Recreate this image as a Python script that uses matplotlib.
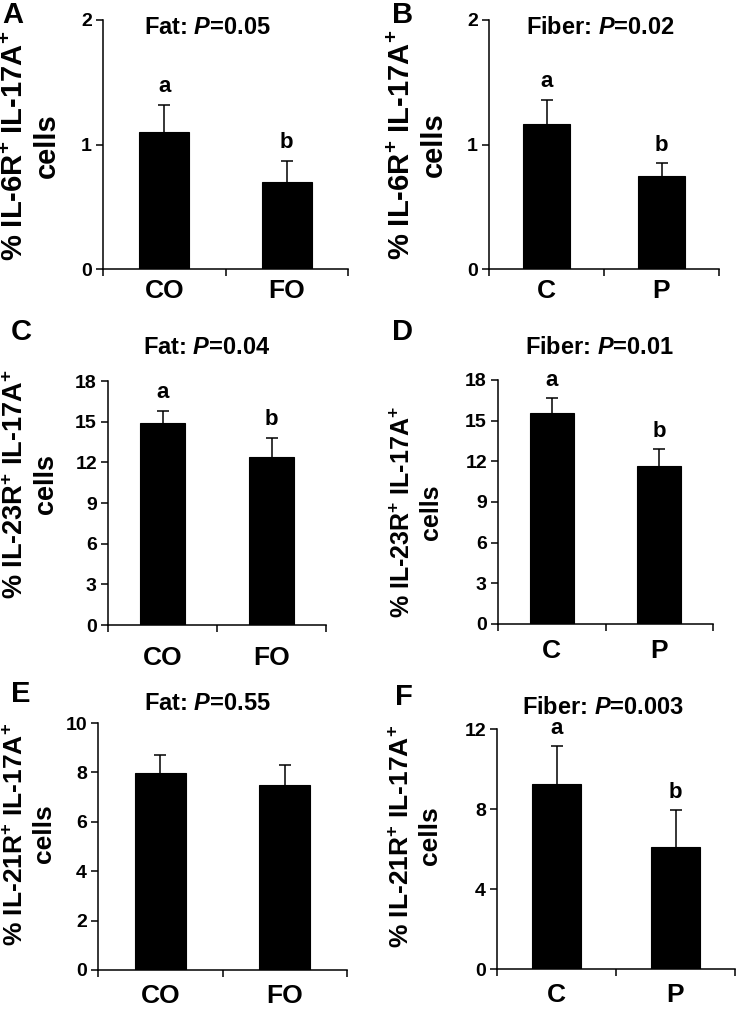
import numpy as np
import matplotlib
matplotlib.use('Agg')
import matplotlib.pyplot as plt

plt.rcParams['font.family'] = ['Liberation Sans', 'DejaVu Sans']
plt.rcParams['font.weight'] = 'bold'
plt.rcParams['mathtext.fontset'] = 'custom'
plt.rcParams['mathtext.rm'] = 'Liberation Sans:bold'
plt.rcParams['mathtext.bf'] = 'Liberation Sans:bold'
plt.rcParams['mathtext.it'] = 'Liberation Sans:italic:bold'

# data
fat_groups = ['CO', 'FO']
fiber_groups = ['C', 'P']

il6r_fat = [1.10, 0.70]
il6r_fat_err = [0.22, 0.17]
il6r_fiber = [1.165, 0.75]
il6r_fiber_err = [0.195, 0.10]

il23r_fat = [14.88, 12.37]
il23r_fat_err = [0.93, 1.45]
il23r_fiber = [15.59, 11.62]
il23r_fiber_err = [1.06, 1.27]

il21r_fat = [7.96, 7.50]
il21r_fat_err = [0.76, 0.78]
il21r_fiber = [9.26, 6.09]
il21r_fiber_err = [1.87, 1.84]

p_values = ['0.05', '0.02', '0.04', '0.01', '0.55', '0.003']
sig_letters = [['a', 'b'], ['a', 'b'], ['a', 'b'], ['a', 'b'], None, ['a', 'b']]
receptors = ['IL-6R', 'IL-6R', 'IL-23R', 'IL-23R', 'IL-21R', 'IL-21R']
panel_ids = ['A', 'B', 'C', 'D', 'E', 'F']

W, H = 738, 1010
fig = plt.figure(figsize=(W / 100, H / 100), dpi=100)


def px_axes(x0, y0, x1, y1):
    return fig.add_axes([x0 / W, 1 - y1 / H, (x1 - x0) / W, (y1 - y0) / H])


# layout in pixels: axes box, ylabel centre + size, title centre, panel letter
layout = [
    dict(box=(103, 20, 348, 269), lab=(31, 146), lfs=21, tit=(207, 28), pid=(13, 15), ymax=2, step=1, xpad=7),
    dict(box=(489, 20, 719, 269), lab=(418, 145), lfs=21, tit=(600, 28), pid=(403, 15), ymax=2, step=1, xpad=7),
    dict(box=(108, 381, 326, 625), lab=(31, 484), lfs=19.5, tit=(207, 348), pid=(21, 332), ymax=18, step=3, xpad=15),
    dict(box=(498, 380, 713, 624), lab=(417, 512), lfs=18, tit=(600, 348), pid=(403, 332), ymax=18, step=3, xpad=11),
    dict(box=(98, 723, 347, 970), lab=(30, 834), lfs=19, tit=(207, 704), pid=(21, 694), ymax=10, step=2, xpad=10),
    dict(box=(497, 729, 735, 969), lab=(416, 836), lfs=19, tit=(603, 707), pid=(404, 697), ymax=12, step=4, xpad=10),
]

series = [
    (fat_groups, il6r_fat, il6r_fat_err, 'Fat'),
    (fiber_groups, il6r_fiber, il6r_fiber_err, 'Fiber'),
    (fat_groups, il23r_fat, il23r_fat_err, 'Fat'),
    (fiber_groups, il23r_fiber, il23r_fiber_err, 'Fiber'),
    (fat_groups, il21r_fat, il21r_fat_err, 'Fat'),
    (fiber_groups, il21r_fiber, il21r_fiber_err, 'Fiber'),
]

for k in range(6):
    lay = layout[k]
    groups, vals, errs, factor = series[k]
    ax = px_axes(*lay['box'])
    x = np.arange(len(groups))
    ax.bar(x, vals, width=0.41, color='black', edgecolor='black', linewidth=0.8, zorder=2)
    eb = ax.errorbar(x, vals, yerr=[np.zeros(len(errs)), errs], fmt='none', ecolor='black',
                     elinewidth=1.1, capsize=4, capthick=1.1, zorder=1)
    # only the upper cap is visible in the original
    eb[1][0].set_visible(False)
    ax.set_xlim(-0.5, 1.5)
    ax.set_ylim(0, lay['ymax'])
    ax.set_yticks(np.arange(0, lay['ymax'] + 0.01, lay['step']))
    ax.set_yticklabels([str(int(t)) for t in ax.get_yticks()], fontsize=14, fontweight='bold')
    ax.set_xticks([-0.5, 0.5, 1.5])
    ax.set_xticklabels([])
    ax.set_xticks(x, minor=True)
    ax.set_xticklabels(groups, minor=True, fontsize=19, fontweight='bold')
    ax.tick_params(axis='x', which='minor', length=0, pad=lay['xpad'])
    ax.tick_params(axis='x', which='major', length=5, width=1.1, direction='out')
    ax.tick_params(axis='y', length=5, width=1.1, direction='out', pad=3)
    for s in ['top', 'right']:
        ax.spines[s].set_visible(False)
    for s in ['left', 'bottom']:
        ax.spines[s].set_linewidth(1.1)
    ax.set_facecolor('none')

    if sig_letters[k] is not None:
        for i in range(len(groups)):
            ax.annotate(sig_letters[k][i], (x[i], vals[i] + errs[i]), xytext=(0, 13),
                        textcoords='offset points', ha='center', va='center',
                        fontsize=16, fontweight='bold')

    lx, ly = lay['lab']
    fig.text(lx / W, 1 - ly / H,
             '% ' + receptors[k] + r'$^{+}$ IL-17A$^{+}$' + '\ncells',
             rotation=90, ha='center', va='center', multialignment='center',
             fontsize=lay['lfs'], fontweight='bold', linespacing=1.2)
    tx, ty = lay['tit']
    fig.text(tx / W, 1 - ty / H, factor + r': $\mathit{P}$=' + p_values[k],
             ha='center', va='center', fontsize=17, fontweight='bold')
    px, py = lay['pid']
    fig.text(px / W, 1 - py / H, panel_ids[k], ha='center', va='center',
             fontsize=21, fontweight='bold')

fig.savefig('out.png', dpi=100)
